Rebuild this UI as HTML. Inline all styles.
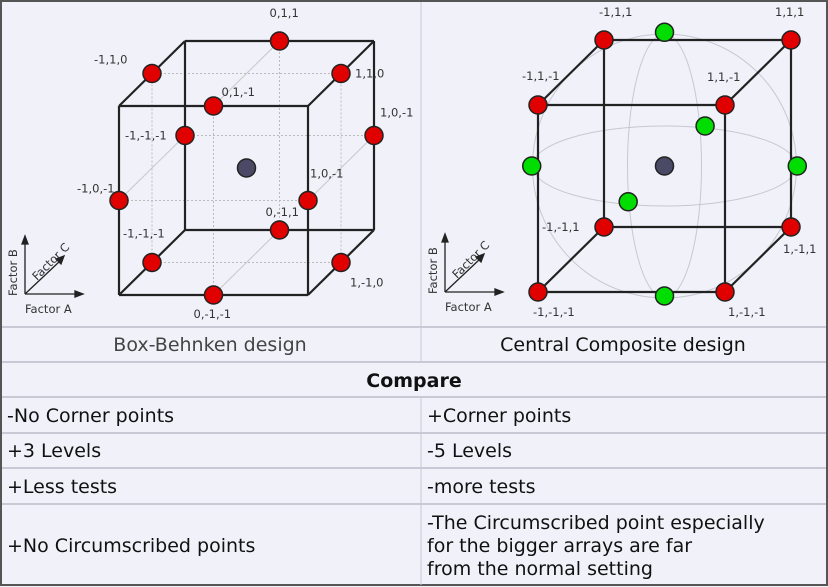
<!DOCTYPE html>
<html><head><meta charset="utf-8">
<style>
html,body{margin:0;padding:0;background:#f1f1fa;}
body{width:828px;height:587px;overflow:hidden;position:relative;font-family:"DejaVu Sans","Liberation Sans",sans-serif;}
svg{position:absolute;left:0;top:0;}
.lbl{font-size:11.5px;fill:#333;}
.cell{font-size:19px;fill:#111;}
</style></head><body>
<svg id="fig" width="828" height="587" viewBox="0 0 828 587">
  <rect x="1" y="1" width="826" height="584" fill="#f1f1fa" stroke="#555" stroke-width="2"/>
  <g stroke="#c9c9d6" stroke-width="2">
    <line x1="2" y1="327" x2="826" y2="327"/>
    <line x1="2" y1="362" x2="826" y2="362"/>
    <line x1="2" y1="397" x2="826" y2="397"/>
    <line x1="2" y1="433" x2="826" y2="433"/>
    <line x1="2" y1="468" x2="826" y2="468"/>
    <line x1="2" y1="504" x2="826" y2="504"/>
    <line x1="421" y1="2" x2="421" y2="362" stroke-width="1"/>
    <line x1="421" y1="397" x2="421" y2="585" stroke-width="1"/>
  </g>
  <g>
    <text class="cell" x="210" y="351" text-anchor="middle" style="fill:#444">Box-Behnken design</text>
    <text class="cell" x="623" y="351" text-anchor="middle">Central Composite design</text>
    <text class="cell" x="414" y="387" text-anchor="middle" font-weight="bold">Compare</text>
    <text class="cell" x="7" y="422">-No Corner points</text>
    <text class="cell" x="427" y="422">+Corner points</text>
    <text class="cell" x="7" y="457">+3 Levels</text>
    <text class="cell" x="427" y="457">-5 Levels</text>
    <text class="cell" x="7" y="493">+Less tests</text>
    <text class="cell" x="427" y="493">-more tests</text>
    <text class="cell" x="7" y="552">+No Circumscribed points</text>
    <text class="cell" x="427" y="529">-The Circumscribed point especially</text>
    <text class="cell" x="427" y="552">for the bigger arrays are far</text>
    <text class="cell" x="427" y="575">from the normal setting</text>
  </g>
  <g id="left"></g>
  <g id="right"></g>
</svg>
<script>
// Box-Behnken design points (A,B,C)
const bbA = [0,-1,1,0,-1,1,-1,1,0,-1,1,0];
const bbB = [1,1,1,1,0,0,0,0,-1,-1,-1,-1];
const bbC = [1,0,0,-1,1,1,-1,-1,1,0,0,-1];
const bbLabels = ["0,1,1","-1,1,0","1,1,0","0,1,-1","-1,-1,-1","1,0,-1","-1,0,-1","1,0,-1","0,-1,1","-1,-1,-1","1,-1,0","0,-1,-1"];
const bbLabelDX = [-10,-58,14,8,-60,6,-42,2,-14,-29,9,-20];
const bbLabelDY = [-24,-10,4,-10,4,-19,-8,-23,-14,-25,24,23];
// Central composite factorial corners
const ccA = [-1,1,-1,1,-1,1,-1,1];
const ccB = [1,1,1,1,-1,-1,-1,-1];
const ccC = [1,1,-1,-1,1,1,-1,-1];
const ccLabels = ["-1,1,1","1,1,1","-1,1,-1","1,1,-1","-1,-1,1","1,-1,1","-1,-1,-1","1,-1,-1"];
const ccLabelDX = [-5,-16,-16,-18,-62,-8,-5,3];
const ccLabelDY = [-24,-24,-25,-24,4,26,24,24];
// Axial (star) points
const axA = [0,-1.42,1.42,0,0,0];
const axB = [1.43,0,0,0,0,-1.39];
const axC = [0,0,0,1.23,-1.1,0];

const NS = "http://www.w3.org/2000/svg";
function mk(parent, tag, attrs){ const e=document.createElementNS(NS,tag); for(const k in attrs) e.setAttribute(k,attrs[k]); parent.appendChild(e); return e; }
function proj(cx,cy,h,dx,dy){ return (a,b,c)=>[cx+a*h+c*dx, cy-b*h-c*dy]; }

function drawCube(g,P,dashed){
  const corners=[];
  for(const a of [-1,1]) for(const b of [-1,1]) for(const c of [-1,1]) corners.push([a,b,c]);
  if(dashed){
    const dg=mk(g,'g',{stroke:'#bbb','stroke-width':1,'stroke-dasharray':'2,2',fill:'none'});
    
    
    const mids=[[0,-1,-1,0,1,-1],[0,-1,1,0,1,1],[-1,0,-1,-1,0,1],[1,0,-1,1,0,1],[-1,-1,0,1,-1,0],[-1,1,0,1,1,0],
                [-1,0,-1,1,0,-1],[-1,0,1,1,0,1],[0,-1,-1,0,-1,1],[0,1,-1,0,1,1],[-1,-1,0,-1,1,0],[1,-1,0,1,1,0]];
    mids.forEach(m=>{const p=P(m[0],m[1],m[2]),q=P(m[3],m[4],m[5]); mk(dg,'line',{x1:p[0],y1:p[1],x2:q[0],y2:q[1]});});
    const sg=mk(g,'g',{stroke:'#ccc','stroke-width':1});
    
    
    [[0,1,-1,0,1,1],[-1,0,-1,-1,0,1],[1,0,-1,1,0,1],[0,-1,-1,0,-1,1]].forEach(m=>{const p=P(m[0],m[1],m[2]),q=P(m[3],m[4],m[5]); mk(sg,'line',{x1:p[0],y1:p[1],x2:q[0],y2:q[1]});});
  }
  const eg=mk(g,'g',{stroke:'#222','stroke-width':2.2,fill:'none'});
  
  
  for(let i=0;i<8;i++) for(let j=i+1;j<8;j++){
    const d=corners[i].reduce((s,v,k)=>s+(v!==corners[j][k]?1:0),0);
    if(d===1){const p=P(...corners[i]),q=P(...corners[j]); mk(eg,'line',{x1:p[0],y1:p[1],x2:q[0],y2:q[1]});}
  }
}
function dot(g,p,fill,name,r){
  const c=mk(g,'circle',{cx:p[0],cy:p[1],r:r||9,fill:fill,stroke:'#222','stroke-width':1.5});
  
  
}
function label(g,x,y,t){
  const e=mk(g,'text',{x:x,y:y,class:'lbl'}); e.textContent=t;
  
  
}
function axes(g,ox,oy){
  const ag=mk(g,'g',{stroke:'#222','stroke-width':1.3,fill:'#222'});
  
  
  mk(ag,'line',{x1:ox,y1:oy,x2:ox,y2:oy-52});
  mk(ag,'polygon',{points:`${ox-3},${oy-50} ${ox+3},${oy-50} ${ox},${oy-58}`});
  mk(ag,'line',{x1:ox,y1:oy,x2:ox+52,y2:oy});
  mk(ag,'polygon',{points:`${ox+50},${oy-3} ${ox+50},${oy+3} ${ox+58},${oy}`});
  mk(ag,'line',{x1:ox,y1:oy,x2:ox+35,y2:oy-33});
  mk(ag,'polygon',{points:`${ox+31},${oy-35} ${ox+36},${oy-30} ${ox+39},${oy-38}`});
  const ta=mk(g,'text',{x:ox,y:oy+19,class:'lbl'}); ta.textContent='Factor A';
   
  const tb=mk(g,'text',{x:0,y:0,class:'lbl',transform:`translate(${ox-8},${oy+2}) rotate(-90)`}); tb.textContent='Factor B';
   
  const tc=mk(g,'text',{x:0,y:0,class:'lbl',transform:`translate(${ox+12},${oy-13}) rotate(-45)`}); tc.textContent='Factor C';
   
}

const L=document.getElementById('left');
const PL=proj(246.5,168,94.5,33,32.5);
drawCube(L,PL,true);
dot(L,PL(0,0,0),'#4a4a66','center-point',9);
bbA.forEach((a,i)=>{const p=PL(a,bbB[i],bbC[i]); dot(L,p,'#e00000','bb-point'); label(L,p[0]+bbLabelDX[i],p[1]+bbLabelDY[i],bbLabels[i]);});
axes(L,25,294);

const R=document.getElementById('right');
const PR=proj(664.5,166,93.5,33,32.5);
const sg=mk(R,'g',{stroke:'#c8c8d0','stroke-width':1,fill:'none'});


mk(sg,'circle',{cx:664.5,cy:166,r:132});
mk(sg,'ellipse',{cx:664.5,cy:166,rx:132,ry:40});
mk(sg,'ellipse',{cx:664.5,cy:166,rx:37,ry:132});
drawCube(R,PR,false);
dot(R,PR(0,0,0),'#4a4a66','center-point',9);
axA.forEach((a,i)=>dot(R,PR(a,axB[i],axC[i]),'#00dd00','axial-point'));
ccA.forEach((a,i)=>{const p=PR(a,ccB[i],ccC[i]); dot(R,p,'#e00000','corner-point'); label(R,p[0]+ccLabelDX[i],p[1]+ccLabelDY[i],ccLabels[i]);});
axes(R,445,292);
</script>
</body></html>
